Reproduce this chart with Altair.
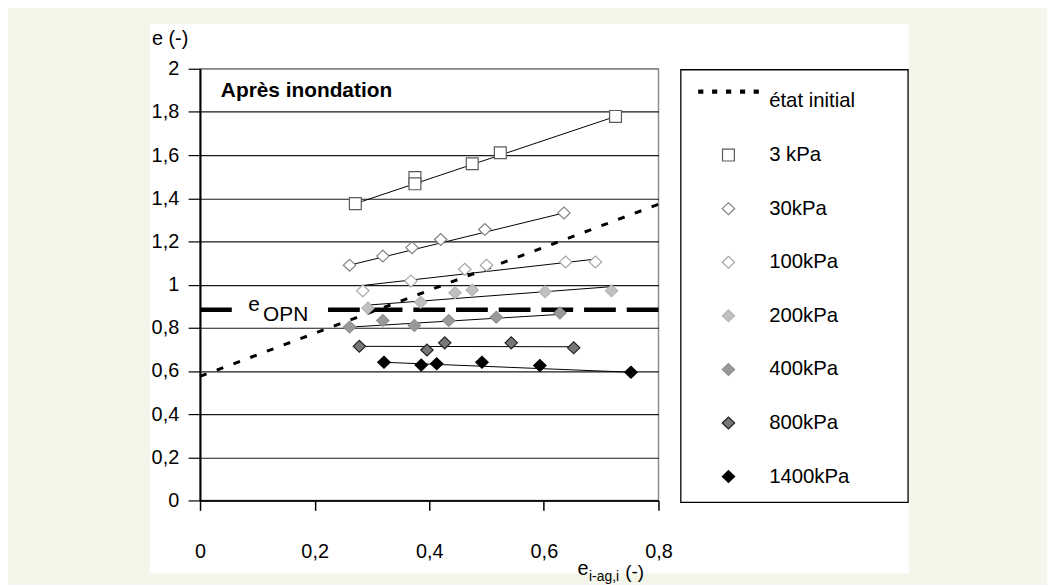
import altair as alt
import pandas as pd

FONT = "Liberation Sans"

# ---------------- data ----------------
series_names = ["état initial", "3 kPa", "30kPa", "100kPa", "200kPa", "400kPa", "800kPa", "1400kPa"]

x_3kpa = [0.271, 0.375, 0.375, 0.475, 0.524, 0.725]
y_3kpa = [1.375, 1.496, 1.467, 1.560, 1.611, 1.779]
x_30kpa = [0.261, 0.319, 0.370, 0.420, 0.497, 0.635]
y_30kpa = [1.090, 1.132, 1.171, 1.209, 1.255, 1.332]
x_100kpa = [0.284, 0.368, 0.462, 0.500, 0.638, 0.690]
y_100kpa = [0.971, 1.017, 1.071, 1.090, 1.105, 1.105]
x_200kpa = [0.293, 0.385, 0.445, 0.475, 0.602, 0.718]
y_200kpa = [0.891, 0.918, 0.962, 0.975, 0.967, 0.971]
x_400kpa = [0.261, 0.319, 0.374, 0.434, 0.517, 0.628]
y_400kpa = [0.803, 0.834, 0.811, 0.834, 0.849, 0.868]
x_800kpa = [0.278, 0.396, 0.427, 0.543, 0.652]
y_800kpa = [0.714, 0.697, 0.730, 0.730, 0.707]
x_1400kpa = [0.321, 0.386, 0.413, 0.492, 0.593, 0.752]
y_1400kpa = [0.640, 0.627, 0.633, 0.640, 0.625, 0.594]

fit_series = ["3 kPa", "30kPa", "100kPa", "200kPa", "400kPa", "800kPa", "1400kPa"]
fit_x_start = [0.271, 0.261, 0.281, 0.293, 0.261, 0.278, 0.321]
fit_y_start = [1.375, 1.090, 0.995, 0.905, 0.803, 0.714, 0.640]
fit_x_end = [0.725, 0.635, 0.690, 0.716, 0.628, 0.652, 0.752]
fit_y_end = [1.779, 1.332, 1.118, 0.990, 0.862, 0.712, 0.594]

initial_x = [0.0, 0.8]
initial_y = [0.575, 1.372]

e_opn = 0.883

x_ticks = [0, 0.2, 0.4, 0.6, 0.8]
y_ticks = [0, 0.2, 0.4, 0.6, 0.8, 1.0, 1.2, 1.4, 1.6, 1.8, 2.0]

annotation_text = "Après inondation"
y_title_text = "e (-)"
x_title_main = "e"
x_title_sub = "i-ag,i"
x_title_unit = "(-)"
opn_e = "e"
opn_sub = "OPN"

# ---------------- styles ----------------
DASH = ("M-1.15,-0.44h0.154v0.115h-0.154Z M-0.61,-0.44h0.154v0.115h-0.154Z "
        "M-0.07,-0.44h0.154v0.115h-0.154Z M0.47,-0.44h0.154v0.115h-0.154Z "
        "M1.0,-0.44h0.154v0.115h-0.154Z")
SQUARE = "M-0.23,-0.23H0.23V0.23H-0.23Z"
DIAMOND = "M-0.24,0L0,-0.23L0.24,0L0,0.23Z"

fills = ["black", "white", "white", "white", "#c0c0c0", "#999999", "#777777", "black"]
strokes = ["black", "#5a5a5a", "#808080", "#a6a6a6", "#b4b4b4", "#8f8f8f", "#222222", "black"]
shapes = [DASH, SQUARE, DIAMOND, DIAMOND, DIAMOND, DIAMOND, DIAMOND, DIAMOND]
BEIGE = "#F3F6E9"

# ---------------- tables ----------------
pts_rows = []
for name, xs, ys in [("3 kPa", x_3kpa, y_3kpa), ("30kPa", x_30kpa, y_30kpa),
                     ("100kPa", x_100kpa, y_100kpa), ("200kPa", x_200kpa, y_200kpa),
                     ("400kPa", x_400kpa, y_400kpa), ("800kPa", x_800kpa, y_800kpa),
                     ("1400kPa", x_1400kpa, y_1400kpa)]:
    for a, b in zip(xs, ys):
        pts_rows.append({"series": name, "x": a, "y": b})
df_pts = pd.DataFrame(pts_rows)

fit_rows = []
for name, xa, ya, xb, yb in zip(fit_series, fit_x_start, fit_y_start, fit_x_end, fit_y_end):
    fit_rows.append({"series": name, "x": xa, "y": ya})
    fit_rows.append({"series": name, "x": xb, "y": yb})
df_fit = pd.DataFrame(fit_rows)

df_init = pd.DataFrame({"x": initial_x, "y": initial_y})
df_opn = pd.DataFrame({"x": [x_ticks[0]], "x2": [x_ticks[-1]], "y": [e_opn]})
one = pd.DataFrame({"k": [0]})

# ---------------- scales / axes ----------------
label_expr = "replace(format(datum.value, '.1~f'), '.', ',')"
x_scale = alt.Scale(domain=[0, 0.8], nice=False, zero=False)
y_scale = alt.Scale(domain=[0, 2], nice=False, zero=False)
x_axis = alt.Axis(values=x_ticks, title=None, labelExpr=label_expr, labelFont=FONT,
                  labelFontSize=20, labelColor="black", labelPadding=32, tickSize=10,
                  tickColor="black", tickWidth=1.5, domainColor="black", domainWidth=1.5,
                  grid=False, labelFlush=False, labelOverlap=False)
y_axis = alt.Axis(values=y_ticks, title=None, labelExpr=label_expr, labelFont=FONT,
                  labelFontSize=20, labelColor="black", labelPadding=9.5, tickSize=12,
                  tickColor="black", tickWidth=1.2, domainColor="black", domainWidth=2,
                  grid=True, labelFlush=False, labelOverlap=False,
                  gridColor={"condition": {"test": "datum.value >= 1.99", "value": "#8c8c8c"},
                             "value": "#1a1a1a"},
                  gridWidth=1.2)


def X(f="x"):
    return alt.X(f, type="quantitative", scale=x_scale, axis=x_axis)


def Y(f="y"):
    return alt.Y(f, type="quantitative", scale=y_scale, axis=y_axis)


legend = alt.Legend(title=None, orient="none", legendX=505.5, legendY=6, symbolSize=2704,
                    symbolStrokeWidth=1.2, labelFont=FONT, labelFontSize=20.5,
                    labelColor="black", labelOffset=14, rowPadding=16, padding=0,
                    symbolOpacity=1)


def rect(x1, x2, y1, y2, **kw):
    return alt.Chart(one).mark_rect(**kw).encode(
        x=alt.value(x1), x2=alt.value(x2), y=alt.value(y1), y2=alt.value(y2))


def txt(text, x, y, size=20, weight="normal", align="left"):
    return alt.Chart(pd.DataFrame({"t": [text]})).mark_text(
        align=align, baseline="alphabetic", font=FONT, fontSize=size,
        fontWeight=weight, color="black").encode(text="t:N", x=alt.value(x), y=alt.value(y))


# beige frame around the white panel
frame = [
    rect(-300, -50.5, -100, 700, fill=BEIGE),
    rect(714.5, 1000, -100, 700, fill=BEIGE),
    rect(-300, 1000, -100, -45, fill=BEIGE),
    rect(-300, 1000, 509, 700, fill=BEIGE),
]

legend_box = rect(484.5, 713.5, 1, 437, fill="white", stroke="black", strokeWidth=1.3)

opn_rule = alt.Chart(df_opn).mark_rule(strokeDash=[32, 11], strokeWidth=4.5, color="black").encode(
    x=X("x"), x2="x2", y=Y("y"))
opn_box = rect(34.5, 128.5, 229, 257, fill="white")
opn_t1 = txt(opn_e, 48.5, 244.5, size=21)
opn_t2 = txt(opn_sub, 63.5, 253.7, size=21)

init_line = alt.Chart(df_init).mark_line(strokeDash=[7, 11], strokeWidth=3, color="black").encode(
    x=X(), y=Y())

fit_lines = alt.Chart(df_fit).mark_line(color="black", strokeWidth=1).encode(
    x=X(), y=Y(), detail="series:N")

points = alt.Chart(df_pts).mark_point(filled=True, size=2704, opacity=1, strokeWidth=1.2).encode(
    x=X(), y=Y(),
    fill=alt.Fill("series:N", scale=alt.Scale(domain=series_names, range=fills), legend=legend),
    stroke=alt.Stroke("series:N", scale=alt.Scale(domain=series_names, range=strokes), legend=legend),
    shape=alt.Shape("series:N", scale=alt.Scale(domain=series_names, range=shapes), legend=legend),
)

texts = [
    txt(annotation_text, 21, 28, size=21, weight="bold"),
    txt(y_title_text, -48.5, -24, size=20),
    txt(x_title_main, 380.5, 510, size=20),
    txt(x_title_sub, 392, 516, size=14),
    txt(x_title_unit, 428.5, 513, size=19),
]

chart = alt.layer(
    *frame, legend_box, opn_rule, opn_box, opn_t1, opn_t2, init_line, fit_lines, points, *texts
).properties(
    width=462, height=435,
    padding={"left": 193.5, "top": 59, "right": 391.5, "bottom": 83},
    autosize=alt.AutoSizeParams(type="none"),
    background="white",
).configure_view(stroke="#8c8c8c", strokeWidth=1.5)

chart.save("out.html", embed_options={"renderer": "svg", "actions": False})
